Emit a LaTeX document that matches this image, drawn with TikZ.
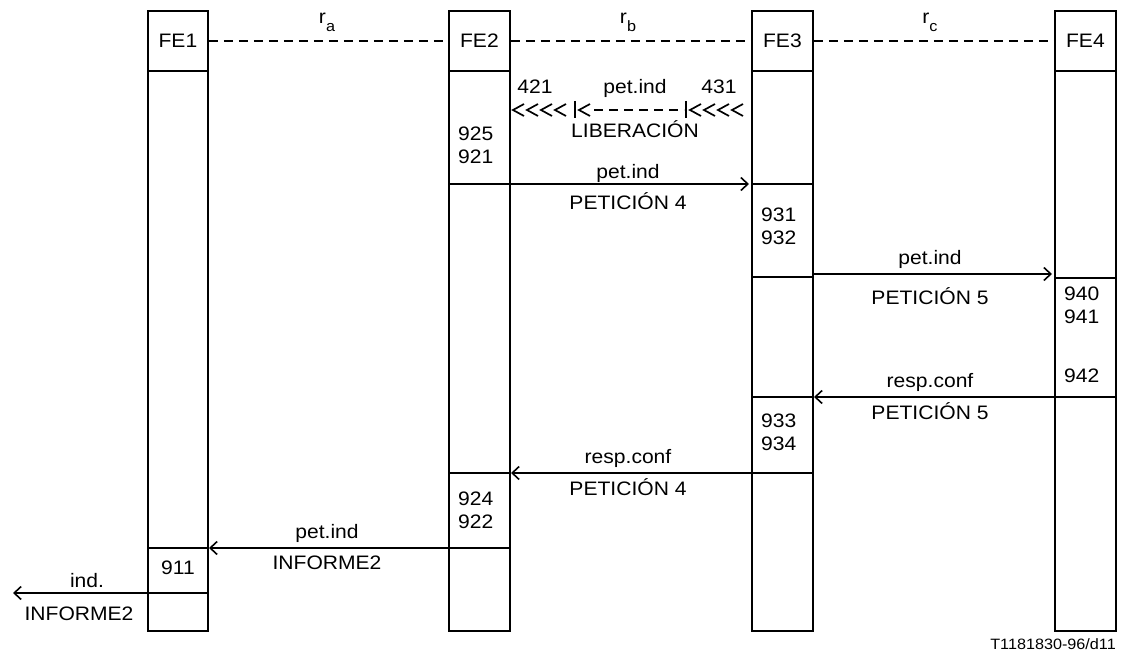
\documentclass[tikz,border=0pt]{standalone}
\usepackage{fontspec}
\setmainfont{Liberation Sans}[FakeStretch=1.08]
\usetikzlibrary{arrows.meta}
\tikzset{
  box/.style={draw, line width=1.8pt, rectangle, inner sep=0pt},
  sep/.style={line width=1.8pt},
  msg/.style={line width=1.8pt, -{Straight Barb[length=7pt,width=13pt,line width=1.6pt]}},
  lbl/.style={font=\fontsize{19.5}{21}\selectfont, inner sep=0pt},
  num/.style={font=\fontsize{19.5}{23}\selectfont, inner sep=0pt, align=left, anchor=north west},
  ref/.style={line width=2pt, dash pattern=on 9pt off 6pt},
  chev/.style={line width=1.7pt},
}
\newcommand{\rsub}[1]{r\raisebox{-8pt}{\fontsize{15}{15}\selectfont #1}}
\begin{document}
\begin{tikzpicture}[x=1pt,y=-1pt]
\useasboundingbox (0,0) rectangle (1125,655);
% columns
\foreach \n/\l/\r in {1/147/207, 2/448/509, 3/751/812, 4/1054/1115}{
  \node[box, minimum width=\r pt-\l pt, minimum height=60pt, anchor=north west] (h\n) at (\l,10) {};
  \node[box, minimum width=\r pt-\l pt, minimum height=560pt, anchor=north west] (b\n) at (\l,70) {};
}
\node[lbl] (t1) at (h1.center) {FE1};
\node[lbl] (t2) at (h2.center) {FE2};
\node[lbl] (t3) at (h3.center) {FE3};
\node[lbl] (t4) at (h4.center) {FE4};
% reference points
\draw[ref] (h1.east) -- (h2.west);
\draw[ref] (h2.east) -- (h3.west);
\draw[ref] (h3.east) -- (h4.west);
\node[lbl] (ra) at (327,22) {\rsub{a}};
\node[lbl] (rb) at (628,22) {\rsub{b}};
\node[lbl] (rc) at (930,22) {\rsub{c}};
% separators
\foreach \y in {548,593} \draw[sep] (147,\y) -- (207,\y);
\foreach \y in {184,473,548} \draw[sep] (448,\y) -- (509,\y);
\foreach \y in {184,277,397,473} \draw[sep] (751,\y) -- (812,\y);
\foreach \y in {278,397} \draw[sep] (1054,\y) -- (1115,\y);
% endpoints
\coordinate (a1s) at (509,184); \coordinate (a1e) at (749,184);
\coordinate (a2s) at (812,274); \coordinate (a2e) at (1052,274);
\coordinate (a3s) at (1054,397); \coordinate (a3e) at (814,397);
\coordinate (a4s) at (751,473); \coordinate (a4e) at (511,473);
\coordinate (a5s) at (448,548); \coordinate (a5e) at (209,548);
\coordinate (a6s) at (147,593); \coordinate (a6e) at (13,593);
\draw[msg] (a1s) -- (a1e);
\draw[msg] (a2s) -- (a2e);
\draw[msg] (a3s) -- (a3e);
\draw[msg] (a4s) -- (a4e);
\draw[msg] (a5s) -- (a5e);
\draw[msg] (a6s) -- (a6e);
% LIBERACION (released, dashed)
\foreach \x in {513,527,541,555,579,690,704,718,732}
  \draw[chev] (\x+11,104) -- (\x,110) -- (\x+11,116);
\draw[line width=1.8pt] (575,101) -- (575,118);
\draw[line width=1.8pt] (686,101) -- (686,118);
\draw[line width=2pt, dash pattern=on 9pt off 6pt] (594,110) -- (684,110);
\node[lbl] (n421) at (535,87) {421};
\node[lbl] (n431) at (719,87) {431};
\node[lbl] (lp0) at (635,88) {pet.ind};
\node[lbl] (lib) at (635,129) {LIBERACIÓN};
% message labels
\node[lbl] (l1a) at (628,173) {pet.ind};
\node[lbl] (l1b) at (628,201) {PETICIÓN 4};
\node[lbl] (l2a) at (930,259) {pet.ind};
\node[lbl] (l2b) at (930,296) {PETICIÓN 5};
\node[lbl] (l3a) at (930,382) {resp.conf};
\node[lbl] (l3b) at (930,411) {PETICIÓN 5};
\node[lbl] (l4a) at (628,458) {resp.conf};
\node[lbl] (l4b) at (628,487) {PETICIÓN 4};
\node[lbl] (l5a) at (327,533) {pet.ind};
\node[lbl] (l5b) at (327,563) {INFORME2};
\node[lbl] (l6a) at (87,581) {ind.};
\node[lbl] (l6b) at (79,614) {INFORME2};
% numbers
\node[num] (n925) at (458,127) {925\\921};
\node[num] (n931) at (761,208) {931\\932};
\node[num] (n940) at (1064,287) {940\\941};
\node[num] (n942) at (1064,369) {942};
\node[num] (n933) at (761,414) {933\\934};
\node[num] (n924) at (458,492) {924\\922};
\node[num] (n911) at (161,561) {911};
\node[lbl, anchor=east, font=\fontsize{15}{16}\selectfont] (tag) at (1116,644) {T1181830-96/d11};
\end{tikzpicture}
\end{document}
